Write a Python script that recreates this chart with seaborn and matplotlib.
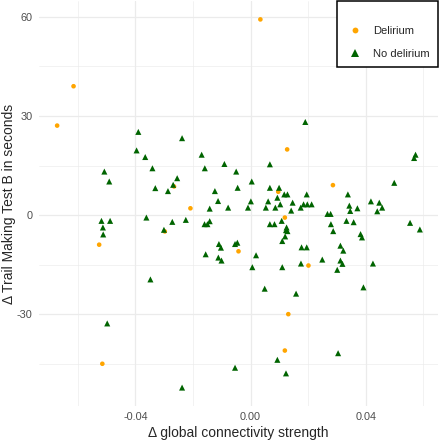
import matplotlib
matplotlib.use("Agg")
import matplotlib.pyplot as plt
from matplotlib.lines import Line2D
from matplotlib.ticker import MultipleLocator
import seaborn as sns
import pandas as pd

# delta global connectivity strength vs delta TMT-B (seconds)
delirium_x = [-0.0615, -0.0672, 0.0034, 0.0127, -0.0266, 0.0096, 0.0286, -0.0209,
              -0.0526, -0.0298, -0.0042, 0.0119, 0.0201, 0.0131, 0.0119, -0.0515]
delirium_y = [39.0, 27.1, 59.2, 19.9, 8.7, 7.1, 9.1, 2.1,
              -8.9, -4.9, -10.9, -0.7, -15.2, -29.9, -40.9, -44.9]

no_delirium_x = [-0.0390, -0.0238, -0.0396, -0.0366, -0.0170, -0.0341, -0.0159, -0.0091,
                 -0.0050, -0.0508, -0.0491, -0.0255, 0.0190, 0.0067, -0.0269, -0.0331,
                 -0.0287, -0.0124, -0.0045, 0.0004, 0.0067, 0.0099, 0.0117, 0.0128,
                 0.0195, 0.0338, 0.0499, 0.0568, 0.0573, -0.0113, 0.0001, 0.0061,
                 0.0093, 0.0146, 0.0103, 0.0184, 0.0197, 0.0212, 0.0343, 0.0418,
                 0.0447, 0.0457, 0.0440, 0.0371, 0.0346, -0.0142, -0.0078, -0.0009,
                 0.0053, 0.0086, 0.0141, 0.0174, 0.0267, 0.0278, -0.0362, -0.0518,
                 -0.0488, -0.0513, -0.0512, -0.0272, -0.0225, -0.0301, -0.0160, -0.0150,
                 -0.0142, 0.0067, 0.0083, 0.0108, 0.0125, 0.0123, 0.0128, 0.0120,
                 0.0110, 0.0279, 0.0287, 0.0333, 0.0358, 0.0382, 0.0387, 0.0554,
                 0.0588, -0.0110, -0.0103, -0.0054, -0.0046, -0.0156, -0.0112, -0.0101,
                 0.0019, 0.0006, 0.0110, 0.0177, 0.0195, 0.0175, 0.0249, 0.0312,
                 0.0322, 0.0312, 0.0319, 0.0301, 0.0425, -0.0348, 0.0049, 0.0158,
                 0.0392, -0.0498, -0.0054, -0.0238, 0.0093, 0.0304, 0.0123]
no_delirium_y = [25.2, 23.3, 19.6, 17.6, 18.3, 14.2, 14.2, 15.5,
                 13.2, 13.2, 10.2, 11.2, 28.2, 15.4, 9.2, 8.2,
                 7.3, 7.3, 8.3, 10.2, 8.3, 8.3, 6.3, 6.3,
                 6.3, 6.3, 9.8, 17.3, 18.3, 4.3, 4.2, 4.2,
                 5.3, 3.8, 3.3, 3.3, 3.3, 3.3, 2.9, 4.2,
                 3.8, 2.3, 1.2, 2.1, 1.3, 2.0, 2.3, 2.3,
                 2.3, 2.3, 1.4, 2.3, 0.4, 0.4, -0.7, -1.7,
                 -1.7, -3.7, -5.8, -2.0, -1.4, -4.4, -2.7, -2.7,
                 -1.8, -2.7, -2.7, -1.7, -3.7, -4.5, -4.8, -6.4,
                 -7.8, -2.7, -4.8, -1.7, -2.1, -5.7, -6.7, -2.3,
                 -4.3, -8.7, -9.8, -8.7, -8.3, -11.8, -12.8, -13.7,
                 -12.1, -15.7, -15.7, -9.7, -9.7, -14.6, -13.4, -9.2,
                 -10.7, -13.7, -14.7, -16.5, -14.6, -19.4, -22.2, -23.7,
                 -21.8, -32.7, -46.1, -52.1, -43.7, -41.7, -47.8]

groups = ["Delirium", "No delirium"]
colors = {"Delirium": "#FFA500", "No delirium": "#006400"}
shapes = {"Delirium": "o", "No delirium": "^"}

df = pd.DataFrame({
    "conn": delirium_x + no_delirium_x,
    "tmt": delirium_y + no_delirium_y,
    "group": [groups[0]] * len(delirium_x) + [groups[1]] * len(no_delirium_x),
})

sns.set_style("white")
plt.rcParams['font.family'] = ['Liberation Sans', 'DejaVu Sans']
plt.rcParams['axes.unicode_minus'] = False

fig = plt.figure(figsize=(4.4, 4.4), dpi=100)
ax = fig.add_axes([39 / 440, 34 / 440, 399 / 440, 405 / 440])

sns.scatterplot(data=df, x="conn", y="tmt", hue="group", style="group", size="group",
                hue_order=groups, style_order=groups, size_order=groups,
                palette=colors, markers=shapes,
                sizes={"Delirium": 11, "No delirium": 19},
                linewidth=0, ax=ax, zorder=3, legend=False)

ax.margins(0.05)
ax.xaxis.set_major_locator(MultipleLocator(0.04))
ax.xaxis.set_minor_locator(MultipleLocator(0.02))
ax.yaxis.set_major_locator(MultipleLocator(30))
ax.yaxis.set_minor_locator(MultipleLocator(15))
ax.xaxis.set_major_formatter(plt.FuncFormatter(lambda v, pos: "{:.2f}".format(v)))
ax.grid(which="major", color="#EBEBEB", linewidth=0.9)
ax.grid(which="minor", color="#EBEBEB", linewidth=0.45)
ax.set_axisbelow(True)
for s in ax.spines.values():
    s.set_visible(False)
ax.tick_params(which="both", length=0, labelsize=7.8, labelcolor="#4D4D4D", pad=4.5)

ax.set_xlabel("Δ global connectivity strength", fontsize=10, labelpad=3)
ax.set_ylabel("Δ Trail Making Test B in seconds", fontsize=10)
ax.yaxis.set_label_coords(-0.058, 0.5)

handles = [Line2D([], [], linestyle="none", marker=shapes[g], color=colors[g],
                  markeredgewidth=0, markersize=4.2 if g == "Delirium" else 5.2)
           for g in groups]
leg = ax.legend(handles, groups, loc="upper right", bbox_to_anchor=(1.0, 1.0),
                borderaxespad=0, frameon=True, fancybox=False, framealpha=1,
                edgecolor="black", fontsize=8, borderpad=0.75, labelspacing=1.15,
                handletextpad=0.75, handlelength=1.7, title=" ", title_fontsize=2)
leg.get_frame().set_linewidth(1.1)

fig.savefig("out.png", dpi=100)
